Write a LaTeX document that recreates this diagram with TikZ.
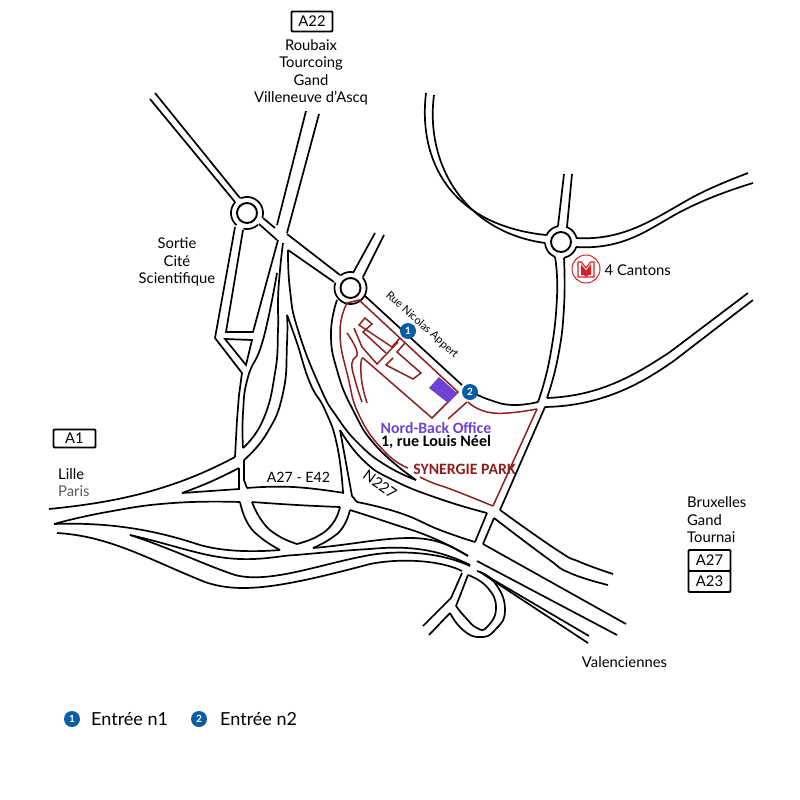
\documentclass[tikz,border=0pt]{standalone}
\usepackage{fontspec}
\setmainfont{Lato}
\newfontfamily\carlito{Carlito}
\newcommand{\rd}[1]{\draw[road] plot[smooth,tension=.85] coordinates {#1};}
\newcommand{\rda}[1]{\draw[redroad] plot[smooth,tension=.85] coordinates {#1};}
\newcommand{\ringarc}[5]{\draw[road] plot[domain=#4:#5,samples=40] ({#1+#3*cos(\x)},{#2+#3*sin(\x)});}
\definecolor{redline}{HTML}{8E1F1F}
\definecolor{badgeblue}{HTML}{0A5CA5}
\definecolor{purp}{HTML}{6F42D6}
\definecolor{metrored}{HTML}{D42027}
\tikzset{
  road/.style={line width=1.7pt,black,line join=miter},
  redroad/.style={line width=1.5pt,redline,line join=miter},
  ringin/.style={line width=1.9pt,black},
  lab/.style={font=\fontsize{14.8}{17.5}\selectfont,text=black,inner sep=0pt,align=center},
  labl/.style={lab,anchor=west,align=left},
  signbox/.style={draw=black,line width=1.9pt,rounded corners=1pt,inner sep=0pt,font=\fontsize{14.8}{16}\selectfont},
  badge/.style={circle,fill=badgeblue,draw=none,minimum size=16pt,inner sep=0pt,text=white,font=\fontsize{10}{10}\selectfont\bfseries},
  legend/.style={font=\fontsize{18}{18}\selectfont,anchor=west,inner sep=0pt}
}
\begin{document}
\begin{tikzpicture}[x=1pt,y=-1pt]
\useasboundingbox (0,0) rectangle (800,800);
% ---- roundabouts
\draw[ringin] (247,213) circle (10);
\ringarc{247}{213}{16}{246}{377}
\ringarc{247}{213}{16}{47}{103}
\ringarc{247}{213}{16}{131}{223}
\draw[ringin] (350.5,288) circle (10);
\ringarc{350.5}{288}{16}{231}{279}
\ringarc{350.5}{288}{16}{319}{560}
\draw[ringin] (561,242) circle (10);
\ringarc{561}{242}{16}{204}{260}
\ringarc{561}{242}{16}{289}{345}
\ringarc{561}{242}{16}{18}{79}
\ringarc{561}{242}{16}{112}{177}
% ---- NW road
\draw[road] (155,93) -- (240,198);
\draw[road] (150,99) -- (235,202);
% ---- A22
\draw[road] (306,111) -- (277,225);
\draw[road] (319,114) -- (287,233);
% ---- RB1 to RB2
\draw[road] (263,218) -- (275,228);
\draw[road] (259,224) -- (277,240);
\draw[road] (287,234) -- (340,275);
\draw[road] (288,250) -- (334,282);
% ---- exit box
\draw[road] (235,227) -- (215,338) -- (242,373) -- (239,395) -- (237,420) -- (235,457);
\draw[road] (243,230) -- (226,332) -- (253,332) -- (278,240);
\draw[road] (225,339) -- (252,340) -- (246,365) -- cycle;
% ---- central curves
\rd{(277,273)(263,340)(248,377)(243,413)(243,448)}
\rd{(283,243)(280,270)(278,300)(278,330)(275,373)(263,420)(243,448)}
\rd{(287,315)(287,343)(283,393)(267,433)(244,460)}
\rd{(287,315)(297,343)(310,383)(325,410)(337,445)(343,492)}
\rd{(288,250)(290,290)(298,330)(320,387)(337,417)(360,445)(387,466)(416,480)}
\rd{(337,300)(331,333)(337,370)(353,410)(377,447)(416,480)}
% ---- N227
\rd{(340,430)(363,460)(393,480)(440,499)(487,513)}
\draw[road] (340,430) -- (352,496) -- (357,502);
\rd{(357,502)(400,513)(440,530)(475,542)}
% ---- west highway
\draw[road] (49,509) .. controls (110,503) and (170,492) .. (235,457);
\rd{(182,493)(210,482)(239,468)}
\draw[road] (182,493) -- (239,489) -- (239,468);
\draw[road] (244,460) -- (244,480) -- (247,488);
\rd{(247,488)(293,487)(344,493)}
\rd{(54,524)(107,512)(173,503)(240,502)}
\draw[road] (54,524) .. controls (110,522) and (155,530) .. (200,545) .. controls (225,552) and (255,552) .. (280,550);
\rd{(240,502)(247,522)(260,537)(280,550)}
% inner lens
\rd{(252,502)(297,505)(340,507)}
\rd{(252,502)(262,521)(277,535)(297,544)}
\rd{(340,507)(333,523)(318,536)(297,544)}
\rd{(350,510)(343,527)(330,539)(313,548)}
\rd{(350,510)(390,523)(433,538)(468,556)}
\draw[road] (313,548) .. controls (350,545) and (380,538) .. (410,538) .. controls (435,538) and (450,545) .. (468,556);
\draw[road] (130,535) .. controls (175,545) and (205,558) .. (240,559) .. controls (265,560) and (285,555) .. (296,555) .. controls (330,552) and (350,550) .. (370,549) .. controls (410,545) and (440,550) .. (470,565);
\draw[road] (130,535) .. controls (170,548) and (205,565) .. (235,575) .. controls (270,584) and (320,564) .. (370,555) .. controls (400,550) and (440,552) .. (470,566);
\draw[road] (57,533) .. controls (110,536) and (150,560) .. (205,582) .. controls (240,594) and (280,588) .. (370,564) .. controls (400,558) and (440,560) .. (462,571);
% ---- crossing and south-east
\draw[road] (487,513) -- (475,542);
\draw[road] (494,518) -- (483,544);
\draw[road] (483,544) -- (626,624);
\draw[road] (477,561) -- (617,635);
\draw[road] (480,572) -- (589,636);
\draw[road] (483,574) -- (588,643);
\rd{(494,518)(547,558)(570,573)(608,585)}
\rd{(500,510)(557,550)(580,562)(613,574)}
\draw[road] (545,407) -- (500,510);
% ---- loop
\draw[road] (468,575) -- (456,606);
\rd{(468,575)(487,587)(496,608)(487,627)(477,628)(465,617)(456,606)}
\rd{(477,571)(495,583)(505,610)(495,630)(480,637)(463,630)(450,613)}
\draw[road] (450,613) -- (429,635);
\draw[road] (462,573) -- (451,598) -- (423,626);
% ---- north road to RB3
\draw[road] (426,93) .. controls (418,160) and (450,225) .. (546,235);
\draw[road] (434,95) .. controls (425,165) and (465,232) .. (545,243);
\draw[road] (564,174) -- (558,226);
\draw[road] (572,174) -- (567,227);
\draw[road] (576,238) .. controls (625,241) and (655,218) .. (693,197) .. controls (712,187) and (730,180) .. (748,173);
\draw[road] (576,247) .. controls (625,250) and (650,228) .. (680,212) .. controls (705,199) and (730,190) .. (753,183);
\rd{(555,257)(557,297)(550,357)(538,402)}
\rd{(564,258)(564,307)(558,357)(547,398)}
\draw[road] (547,398) .. controls (600,396) and (635,375) .. (670,352) -- (748,293);
\draw[road] (545,407) .. controls (600,406) and (640,385) .. (675,360) -- (753,300);
\rd{(470,391)(490,400)(513,405)(538,402)}
\draw[road] (384,235) -- (363,277);
\draw[road] (375,233) -- (353,273);
\draw[road] (365,296) -- (462,385);
% ---- Synergie park
\draw[redroad] (347,303) -- (359,300) -- (458,392) -- (432,418) -- (363,358);
\rda{(347,303)(340,333)(348,377)(360,417)(385,452)(408,468)}
\rda{(420,477)(433,483)(453,490)(493,506)}
\draw[redroad] (493,506) -- (537,409);
\rda{(468,402)(493,413)(537,409)}
\draw[redroad] (467,402) -- (448,419);
\draw[redroad] (400,338) -- (392,347) -- (359,325) -- (365,318) -- (372,324) -- (363,332) -- (386,353);
\draw[redroad] (354,328) -- (362,347) -- (377,364) -- (398,342);
\rda{(347,333)(357,352)(352,363)(355,380)(362,402)}
\rda{(367,403)(362,383)(361,363)(363,358)}
\draw[redroad] (393,358) -- (386,365) -- (413,379) -- (421,373) -- (397,352) -- (405,343);
\fill[purp] (429,388) -- (439,377) -- (457,393) -- (448,403) -- cycle;
% ---- badges
\node[badge] (b1) at (408,331) {1};
\node[badge] (b2) at (470,392) {2};
\node[badge] (l1) at (72,719) {1};
\node[badge] (l2) at (199,719) {2};
\node[legend] (t1) at (91,719) {Entrée n1};
\node[legend] (t2) at (220,719) {Entrée n2};
% ---- labels
\node[signbox,minimum width=41pt,minimum height=20pt] (a22) at (312,21.5) {A22};
\node[lab] (north) at (311,72.5) {Roubaix\\Tourcoing\\Gand\\Villeneuve d’Ascq};
\node[lab] (sortie) at (177,262) {Sortie\\Cité\\Scientifique};
\node[signbox,minimum width=42pt,minimum height=18pt] (a1) at (74.5,438.5) {A1};
\node[labl] (lille) at (58,474) {Lille};
\node[labl,text=black!65] (paris) at (58,491) {Paris};
\node[lab,font=\fontsize{14.2}{16}\selectfont] (a27e) at (298.5,477) {A27 - E42};
\node[lab,rotate=-36] (n227) at (380,484) {N227};
\node[lab,font=\fontsize{11}{12}\selectfont,rotate=-42] (nic) at (422,325) {Rue Nicolas Appert};
\node[labl,align=left] (brux) at (687,520) {Bruxelles\\Gand\\Tournai};
\node[signbox,minimum width=42pt,minimum height=21pt] (a27) at (709.5,560.5) {A27};
\node[signbox,minimum width=42pt,minimum height=21pt] (a23) at (709.5,581.5) {A23};
\node[lab] (val) at (624.5,662) {Valenciennes};
\node[labl] (cant) at (604.5,270) {4 Cantons};
\node[inner sep=0pt,font=\carlito\bfseries\fontsize{15.8}{17}\selectfont,text=purp] (nb) at (436,428) {Nord-Back Office};
\node[inner sep=0pt,font=\carlito\bfseries\fontsize{16}{17}\selectfont] (addr) at (436,442) {1, rue Louis Néel};
\node[inner sep=0pt,font=\carlito\bfseries\fontsize{15.8}{17}\selectfont,text=redline] (syn) at (464.5,469) {SYNERGIE PARK};
% ---- metro
\draw[metrored,line width=1pt] (586,269) circle (14);
\draw[metrored,line width=1.1pt] (578,277) -- (578,262) -- (581.5,262) -- (586,268) -- (590.5,262) -- (594,262) -- (594,277) -- cycle;
\fill[metrored] (581,264) -- (586,270.5) -- (591,264) -- (591,275) -- (588,275) -- (586,277) -- (584,275) -- (581,275) -- cycle;
\end{tikzpicture}
\end{document}
